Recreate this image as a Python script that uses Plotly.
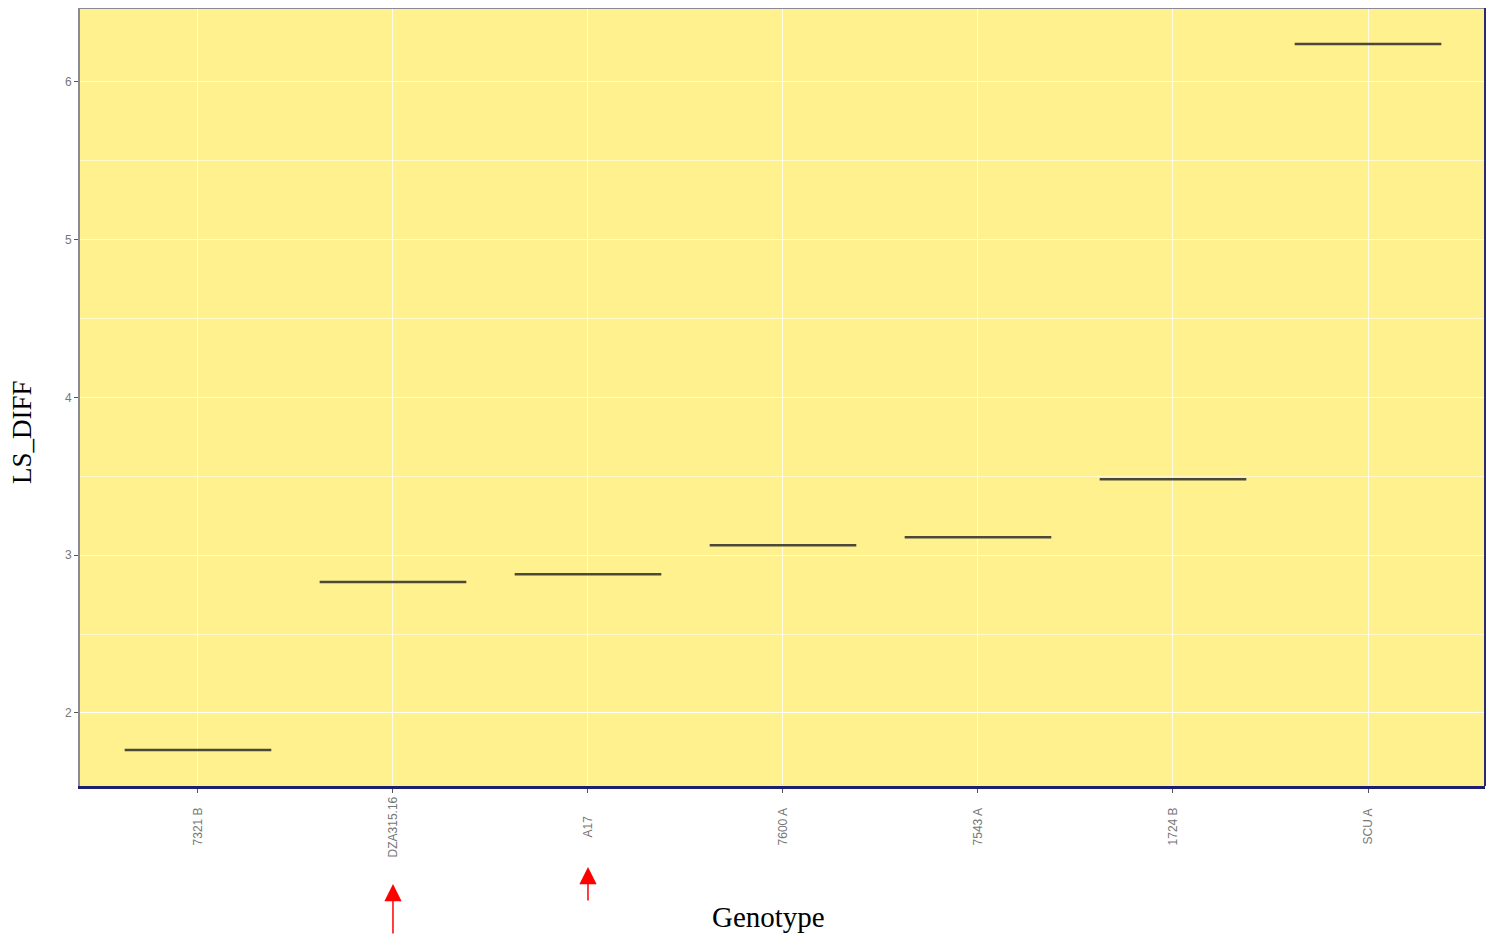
import plotly.graph_objects as go

# Data
genotypes = ["7321 B", "DZA315.16", "A17", "7600 A", "7543 A", "1724 B", "SCU A"]
ls_diff = [1.765, 2.83, 2.88, 3.063, 3.114, 3.482, 6.241]
highlighted = ["DZA315.16", "A17"]

HALF = 0.376  # half width of each segment, in category units

xs, ys = [], []
for i, v in enumerate(ls_diff):
    xs += [i - HALF, i + HALF, None]
    ys += [v, v, None]

fig = go.Figure()
fig.add_trace(go.Scatter(
    x=xs, y=ys, mode="lines",
    line=dict(color="#4b4a38", width=2.5),
    hoverinfo="skip", showlegend=False,
))

# category labels, centred under each tick like ggplot's hjust=0.5
annotations = []
for i, g in enumerate(genotypes):
    annotations.append(dict(
        x=i, xref="x", y=-0.052, yref="paper", text=g, showarrow=False,
        textangle=-90, font=dict(family="Arial, Liberation Sans", size=12, color="#777777"),
        xanchor="center", yanchor="middle",
    ))

# red arrows under the two highlighted genotypes
arrow_tips = {"DZA315.16": (-0.126, 51), "A17": (-0.104, 35)}
for g in highlighted:
    tip, length = arrow_tips[g]
    annotations.append(dict(
        x=genotypes.index(g), xref="x", y=tip, yref="paper", text="",
        showarrow=True, ax=0, ay=length, arrowhead=2, arrowsize=2.3,
        arrowwidth=1.5, arrowcolor="#ff0000",
    ))

# axis titles placed as in the reference
annotations.append(dict(
    x=-0.0413, xref="paper", xanchor="center",
    y=(786 - 432) / 778, yref="paper", yanchor="middle",
    text="LS_DIFF", showarrow=False, textangle=-90,
    font=dict(family="Liberation Serif, Times New Roman", size=27, color="black"),
))
annotations.append(dict(
    x=0.4897, xref="paper", y=-0.168, yref="paper", text="Genotype",
    showarrow=False, xanchor="center", yanchor="middle",
    font=dict(family="Liberation Serif, Times New Roman", size=29, color="black"),
))

fig.update_layout(
    width=1487, height=928,
    margin=dict(l=72, r=10, t=0, b=150),
    paper_bgcolor="white",
    plot_bgcolor="#fff28e",
    annotations=annotations,
    shapes=[
        dict(type="line", xref="paper", yref="paper", x0=0, x1=1, y0=1, y1=1,
             line=dict(color="#8a8a96", width=2)),
        dict(type="line", xref="paper", yref="paper", x0=1, x1=1, y0=0, y1=1,
             line=dict(color="#2b2b78", width=2)),
    ],
)

fig.update_xaxes(
    range=[-0.605, 6.6],
    tickvals=list(range(len(genotypes))), ticktext=genotypes, showticklabels=False,
    ticks="outside", ticklen=4, tickcolor="#555555",
    showgrid=True, gridcolor="rgba(255,255,255,0.75)", gridwidth=1,
    zeroline=False,
    showline=True, linecolor="#1e1e70", linewidth=2.5,
)
fig.update_yaxes(
    range=[1.537, 6.469],
    tickvals=[2, 3, 4, 5, 6], ticks="outside", ticklen=4, tickcolor="#555555",
    tickfont=dict(family="Arial, Liberation Sans", size=12, color="#777777"),
    showgrid=True, gridcolor="rgba(255,255,255,0.75)", gridwidth=1,
    minor=dict(dtick=0.5, tick0=1.5, showgrid=True, gridcolor="rgba(255,255,255,0.55)", gridwidth=1),
    zeroline=False,
    showline=True, linecolor="#8a8a96", linewidth=2,
)

fig.write_html("out.html")
